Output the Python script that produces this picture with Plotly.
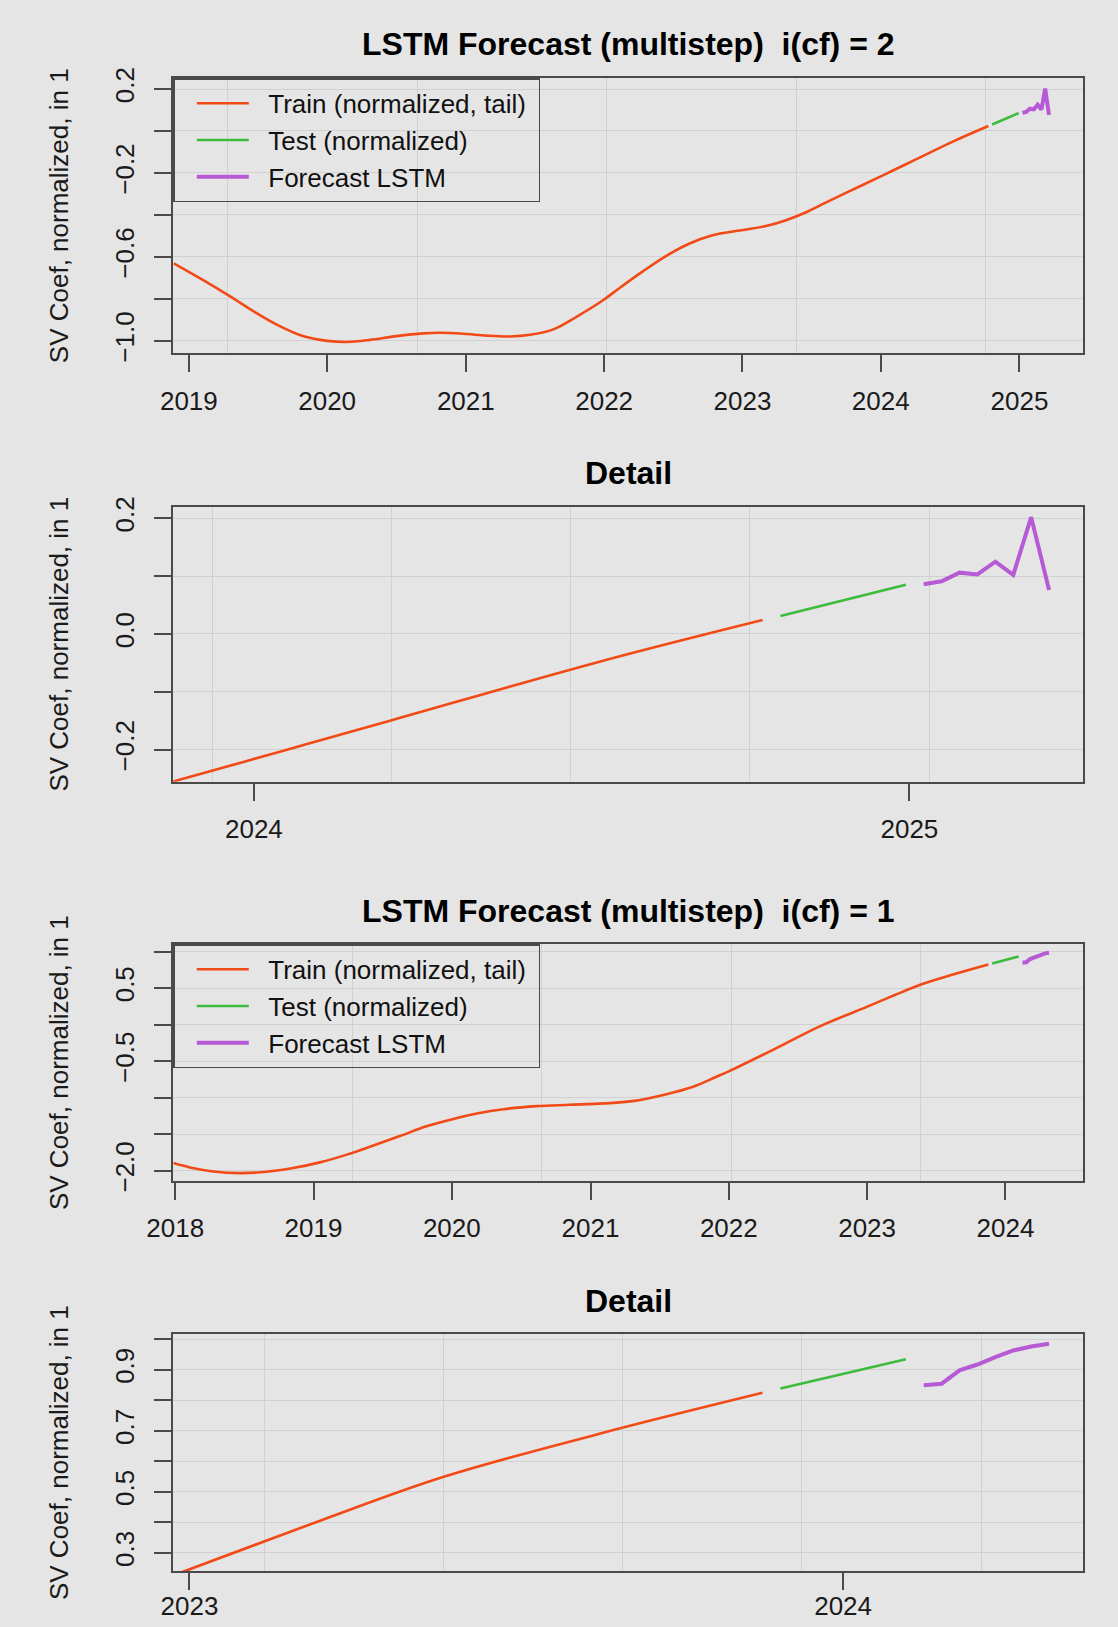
import plotly.graph_objects as go

FONT = "Liberation Sans, Arial, sans-serif"
BG = "#e6e5e5"
GRID = "#d2d1d1"
FRAME = "#4a4a4a"
C_TRAIN = "#f24a16"
C_TEST = "#3dbb3d"
C_FC = "#b65ad6"

# ---------------- i(cf) = 2 ----------------
cf2_train_dates = [
    "2018-11-22", "2019-02-09", "2019-04-20", "2019-06-20", "2019-08-21", "2019-10-31",
    "2020-01-02", "2020-02-22", "2020-04-23", "2020-07-02", "2020-09-11", "2020-10-25",
    "2020-12-26", "2021-02-25", "2021-04-28", "2021-06-19", "2021-08-20", "2021-10-20",
    "2021-12-30", "2022-02-09", "2022-04-12", "2022-06-12", "2022-08-13", "2022-10-14",
    "2022-12-24", "2023-03-04", "2023-04-26", "2023-06-18", "2023-08-10", "2023-11-17",
    "2024-01-15", "2024-03-17", "2024-07-12", "2024-10-11",
]
cf2_train_vals = [
    -0.631, -0.712, -0.788, -0.858, -0.922, -0.978,
    -1.000, -1.005, -0.995, -0.977, -0.964, -0.961,
    -0.966, -0.975, -0.979, -0.971, -0.945, -0.885,
    -0.805, -0.750, -0.670, -0.597, -0.537, -0.497,
    -0.474, -0.453, -0.425, -0.387, -0.340, -0.255,
    -0.204, -0.150, -0.048, 0.024,
]
cf2_test_dates = ["2024-10-21", "2024-11-25", "2024-12-30"]
cf2_test_vals = [0.031, 0.058, 0.085]
cf2_fc_dates = ["2025-01-09", "2025-01-19", "2025-01-29", "2025-02-08",
                "2025-02-18", "2025-02-28", "2025-03-10", "2025-03-20"]
cf2_fc_vals = [0.086, 0.091, 0.106, 0.103, 0.125, 0.102, 0.202, 0.076]

# ---------------- i(cf) = 1 ----------------
cf1_train_dates = [
    "2017-12-27", "2018-02-09", "2018-04-12", "2018-06-21", "2018-08-30", "2018-11-08",
    "2019-01-18", "2019-03-30", "2019-06-08", "2019-08-17", "2019-10-26", "2020-01-05",
    "2020-03-07", "2020-05-16", "2020-08-12", "2020-11-08", "2021-02-05", "2021-04-21",
    "2021-07-18", "2021-09-27", "2021-11-28", "2022-01-02", "2022-04-29", "2022-08-29",
    "2022-12-31", "2023-03-15", "2023-05-23", "2023-08-18", "2023-11-17",
]
cf1_train_vals = [
    -1.895, -1.954, -2.009, -2.032, -2.014, -1.963,
    -1.885, -1.779, -1.654, -1.525, -1.392, -1.290,
    -1.217, -1.157, -1.115, -1.097, -1.078, -1.047,
    -0.955, -0.854, -0.717, -0.636, -0.341, -0.023,
    0.243, 0.405, 0.549, 0.690, 0.824,
]
cf1_test_dates = ["2023-11-27", "2024-01-01", "2024-02-05"]
cf1_test_vals = [0.838, 0.886, 0.934]
cf1_fc_dates = ["2024-02-15", "2024-02-25", "2024-03-06", "2024-03-16",
                "2024-03-26", "2024-04-05", "2024-04-15", "2024-04-25"]
cf1_fc_vals = [0.849, 0.854, 0.898, 0.917, 0.941, 0.963, 0.976, 0.985]

# ---------------- axis ticks ----------------
p1_years = ["2019", "2020", "2021", "2022", "2023", "2024", "2025"]
p2_years = ["2024", "2025"]
p3_years = ["2018", "2019", "2020", "2021", "2022", "2023", "2024"]
p4_years = ["2023", "2024"]

p1_yticks = [-1.0, -0.8, -0.6, -0.4, -0.2, 0.0, 0.2]
p1_ylabels = ["\u22121.0", "", "\u22120.6", "", "\u22120.2", "", "0.2"]
p2_yticks = [-0.2, -0.1, 0.0, 0.1, 0.2]
p2_ylabels = ["\u22120.2", "", "0.0", "", "0.2"]
p3_yticks = [-2.0, -1.5, -1.0, -0.5, 0.0, 0.5, 1.0]
p3_ylabels = ["\u22122.0", "", "", "\u22120.5", "", "0.5", ""]
p4_yticks = [0.3, 0.4, 0.5, 0.6, 0.7, 0.8, 0.9, 1.0]
p4_ylabels = ["0.3", "", "0.5", "", "0.7", "", "0.9", ""]

# grid positions (every 500 / 100 days)
p1_xgrid = ["2019-04-14", "2020-08-26", "2022-01-08", "2023-05-23", "2024-10-04"]
p2_xgrid = ["2023-12-09", "2024-03-18", "2024-06-26", "2024-10-04", "2025-01-12"]
p3_xgrid = ["2019-04-14", "2020-08-26", "2022-01-08", "2023-05-23"]
p4_xgrid = ["2023-02-12", "2023-05-23", "2023-08-31", "2023-12-09", "2024-03-18"]

W, H = 1118, 1627
BOX_L, BOX_R = 173.3, 1083.1
panels_px = [(78.3, 353.3), (506.7, 781.7), (944.3, 1181.0), (1334.3, 1571.0)]
title_px = [44, 473, 911, 1301]
titles = ["LSTM Forecast (multistep) \u00a0i(cf) = 2", "Detail",
          "LSTM Forecast (multistep) \u00a0i(cf) = 1", "Detail"]
xlabel_standoff = [6, 6, 6, -6]

xranges = [["2018-11-21", "2025-06-18"], ["2023-11-17", "2025-04-08"],
           ["2017-12-27", "2024-07-24"], ["2022-12-23", "2024-05-14"]]
yranges = [[-1.059, 0.251], [-0.2554, 0.22], [-2.14, 1.1], [0.24, 1.016]]
xyears = [p1_years, p2_years, p3_years, p4_years]
xgrids = [p1_xgrid, p2_xgrid, p3_xgrid, p4_xgrid]
yticks = [p1_yticks, p2_yticks, p3_yticks, p4_yticks]
ylabels = [p1_ylabels, p2_ylabels, p3_ylabels, p4_ylabels]

series = [
    (cf2_train_dates, cf2_train_vals, cf2_test_dates, cf2_test_vals, cf2_fc_dates, cf2_fc_vals),
    (cf2_train_dates, cf2_train_vals, cf2_test_dates, cf2_test_vals, cf2_fc_dates, cf2_fc_vals),
    (cf1_train_dates, cf1_train_vals, cf1_test_dates, cf1_test_vals, cf1_fc_dates, cf1_fc_vals),
    (cf1_train_dates, cf1_train_vals, cf1_test_dates, cf1_test_vals, cf1_fc_dates, cf1_fc_vals),
]
legend_of = ["legend", None, "legend2", None]
PAD = "\u00a0\u00a0"
TAIL = "\u00a0"

fig = go.Figure()

for i, (td, tv, sd, sv, fd, fv) in enumerate(series):
    sfx = "" if i == 0 else str(i + 1)
    xa, ya = "x" + sfx, "y" + sfx
    lg = legend_of[i]
    show = lg is not None
    common = dict(xaxis=xa, yaxis=ya, mode="lines", showlegend=show, hoverinfo="skip")
    if show:
        common["legend"] = lg
    fig.add_trace(go.Scatter(x=td, y=tv, name=PAD + "Train (normalized, tail)" + TAIL,
                             line=dict(color=C_TRAIN, width=2.6, shape="spline", smoothing=1.0),
                             **common))
    fig.add_trace(go.Scatter(x=sd, y=sv, name=PAD + "Test (normalized)",
                             line=dict(color=C_TEST, width=2.6), **common))
    fig.add_trace(go.Scatter(x=fd, y=fv, name=PAD + "Forecast LSTM",
                             line=dict(color=C_FC, width=4), **common))

tick_font = dict(family=FONT, size=26, color="#1a1a1a")
layout = dict(
    template="none",
    width=W, height=H, autosize=False,
    margin=dict(l=0, r=0, t=0, b=0, pad=0),
    paper_bgcolor=BG, plot_bgcolor=BG,
    font=dict(family=FONT, size=26, color="#1a1a1a"),
    annotations=[],
)

for i in range(4):
    sfx = "" if i == 0 else str(i + 1)
    top, bot = panels_px[i]
    ydom = [1 - bot / H, 1 - top / H]
    xdom = [BOX_L / W, BOX_R / W]
    layout["xaxis" + sfx] = dict(
        domain=xdom, anchor="y" + sfx, type="date", range=xranges[i], automargin=False,
        tickmode="array", tickvals=[y + "-01-01" for y in xyears[i]], ticktext=xyears[i],
        ticks="outside", ticklen=17, tickwidth=1.5, tickcolor=FRAME,
        showgrid=False, zeroline=False,
        showline=True, mirror=True, linecolor=FRAME, linewidth=2,
        tickfont=tick_font, ticklabelstandoff=xlabel_standoff[i],
        minor=dict(tickmode="array", tickvals=xgrids[i], ticks="",
                   showgrid=True, gridcolor=GRID, gridwidth=1.3),
    )
    layout["yaxis" + sfx] = dict(
        domain=ydom, anchor="x" + sfx, range=yranges[i], automargin=False,
        tickmode="array", tickvals=yticks[i], ticktext=ylabels[i],
        ticks="outside", ticklen=17, tickwidth=1.5, tickcolor=FRAME,
        showgrid=True, gridcolor=GRID, gridwidth=1.3, zeroline=False,
        showline=True, mirror=True, linecolor=FRAME, linewidth=2,
        tickangle=-90, tickfont=tick_font, ticklabelstandoff=10,
        title=dict(text="SV Coef, normalized, in 1", standoff=34,
                   font=dict(family=FONT, size=26, color="#1a1a1a")),
    )
    layout["annotations"].append(dict(
        text=titles[i], xref="paper", yref="paper",
        x=(BOX_L + BOX_R) / 2 / W, y=1 - title_px[i] / H,
        xanchor="center", yanchor="middle", showarrow=False,
        font=dict(family=FONT, size=32, color="#000000", weight="bold"),
    ))

legend_style = dict(
    xanchor="left", yanchor="top", bgcolor="rgba(0,0,0,0)",
    bordercolor=FRAME, borderwidth=1.5, itemwidth=52, indentation=17,
    traceorder="normal",
    font=dict(family=FONT, size=26, color="#111111"),
)
layout["legend"] = dict(x=BOX_L / W, y=1 - panels_px[0][0] / H, **legend_style)
layout["legend2"] = dict(x=BOX_L / W, y=1 - panels_px[2][0] / H, **legend_style)

fig.update_layout(**layout)
fig.write_html("out.html")
